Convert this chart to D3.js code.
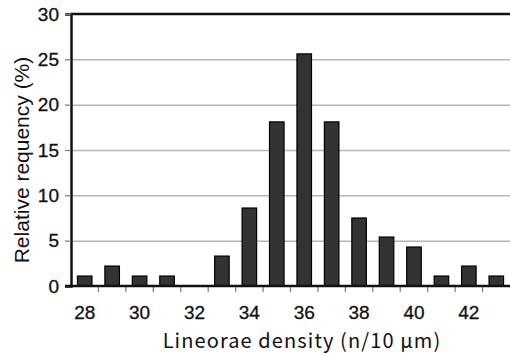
<!DOCTYPE html>
<html>
<head>
<meta charset="utf-8">
<script src="https://cdn.jsdelivr.net/npm/d3@7"></script>
<style>
  body { margin: 0; background: #fff; }
</style>
</head>
<body>
<div id="chart"></div>
<script>
// lineorae density classes and their relative frequency (%)
const densities = [28, 29, 30, 31, 32, 33, 34, 35, 36, 37, 38, 39, 40, 41, 42, 43];
const frequency = [1.1, 2.2, 1.1, 1.1, 0, 3.3, 8.6, 18.1, 25.6, 18.1, 7.5, 5.4, 4.3, 1.1, 2.2, 1.1];
const yTicks = [0, 5, 10, 15, 20, 25, 30];
const xLabelled = [28, 30, 32, 34, 36, 38, 40, 42];

const width = 510;
const height = 356;
const margin = { top: 14, right: 0, bottom: 70, left: 71 };

const svg = d3.select('#chart')
  .append('svg')
  .attr('width', width)
  .attr('height', height);

const xScale = d3.scaleBand()
  .domain(densities)
  .range([margin.left, width - margin.right])
  .paddingInner(0.47)
  .paddingOuter(0.235);

const yScale = d3.scaleLinear()
  .domain([0, 30])
  .range([height - margin.bottom, margin.top]);

// gridlines
svg.append('g')
  .attr('transform', `translate(${margin.left}, 0)`)
  .call(d3.axisLeft(yScale).tickValues(yTicks.slice(1, -1)).tickSize(-(width - margin.left)).tickFormat(''))
  .call(g => g.select('.domain').remove())
  .call(g => g.selectAll('line').attr('stroke', '#b5b5b5').attr('stroke-width', 1.5));

// top border
svg.append('line')
  .attr('x1', margin.left).attr('x2', width)
  .attr('y1', yScale(30)).attr('y2', yScale(30))
  .attr('stroke', '#111').attr('stroke-width', 2.5);

// bars
svg.append('g')
  .selectAll('rect')
  .data(densities.map((d, i) => ({ x: d, y: frequency[i] })).filter(d => d.y > 0))
  .join('rect')
  .attr('x', d => xScale(d.x))
  .attr('y', d => yScale(d.y))
  .attr('width', xScale.bandwidth())
  .attr('height', d => yScale(0) - yScale(d.y))
  .attr('fill', '#333')
  .attr('stroke', '#000')
  .attr('stroke-width', 1.2);

// y axis
const yAxis = svg.append('g')
  .attr('transform', `translate(${margin.left}, 0)`)
  .call(d3.axisLeft(yScale).tickValues(yTicks).tickSize(6).tickPadding(6));
yAxis.select('.domain').attr('stroke', '#111').attr('stroke-width', 2.5);
yAxis.selectAll('.tick line').attr('stroke', '#777').attr('stroke-width', 1.2);
yAxis.selectAll('text')
  .style('font-family', 'Liberation Sans, Arial, sans-serif')
  .style('font-size', '19px')
  .attr('fill', '#111')
  .attr('stroke', '#111')
  .attr('stroke-width', 0.3);

// x axis: ticks between bands, labels at centers
const step = xScale.step();
const gap = step - xScale.bandwidth();
const bottom = yScale(0);
const xAxisG = svg.append('g');
xAxisG.selectAll('line.tick')
  .data(densities.slice(1))
  .join('line')
  .attr('x1', d => xScale(d) - gap / 2)
  .attr('x2', d => xScale(d) - gap / 2)
  .attr('y1', bottom)
  .attr('y2', bottom + 6)
  .attr('stroke', '#777')
  .attr('stroke-width', 1.2);
xAxisG.append('line')
  .attr('x1', margin.left - 6).attr('x2', width)
  .attr('y1', bottom).attr('y2', bottom)
  .attr('stroke', '#111').attr('stroke-width', 2.5);
xAxisG.selectAll('text')
  .data(xLabelled)
  .join('text')
  .attr('x', d => xScale(d) + xScale.bandwidth() / 2)
  .attr('y', bottom + 33)
  .attr('text-anchor', 'middle')
  .style('font-family', 'Liberation Sans, Arial, sans-serif')
  .style('font-size', '19px')
  .attr('fill', '#111')
  .attr('stroke', '#111')
  .attr('stroke-width', 0.3)
  .text(d => d);

// axis titles
svg.append('text')
  .attr('x', 302)
  .attr('y', 348)
  .attr('text-anchor', 'middle')
  .style('font-family', 'Noto Sans CJK JP, sans-serif')
  .style('font-size', '20px')
  .style('letter-spacing', '1.1px')
  .attr('fill', '#111')
  .text('Lineorae density (n/10 µm)');

svg.append('text')
  .attr('transform', 'translate(29, 160) rotate(-90)')
  .attr('text-anchor', 'middle')
  .style('font-family', 'Liberation Sans, Arial, sans-serif')
  .style('font-size', '21px')
  .attr('fill', '#111')
  .text('Relative requency (%)');
</script>
</body>
</html>
